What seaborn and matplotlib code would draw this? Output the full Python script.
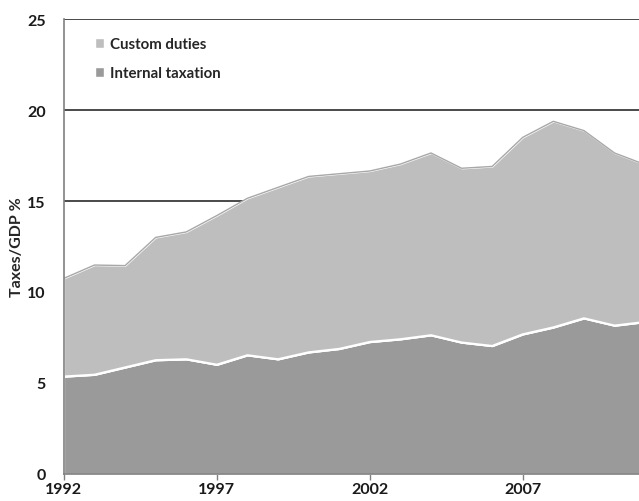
import matplotlib
matplotlib.use("Agg")
import matplotlib.pyplot as plt
from matplotlib.patches import Patch
import numpy as np
import pandas as pd
import seaborn as sns

years = list(range(1992, 2012))
internal_taxation = [5.35, 5.45, 5.85, 6.25, 6.3, 6.0, 6.52, 6.3, 6.68, 6.87, 7.25, 7.4, 7.62,
                     7.22, 7.03, 7.67, 8.05, 8.55, 8.15, 8.35]
total_taxes = [10.75, 11.48, 11.45, 13.0, 13.3, 14.2, 15.15, 15.75, 16.35, 16.5, 16.65, 17.03,
               17.64, 16.8, 16.9, 18.5, 19.38, 18.87, 17.64, 17.0]
custom_duties = [t - i for t, i in zip(total_taxes, internal_taxation)]

df = pd.DataFrame({"year": years, "internal": internal_taxation,
                   "custom": custom_duties, "total": total_taxes})

sns.set_style("white")
plt.rcParams["font.family"] = ["Lato", "DejaVu Sans"]
plt.rcParams["font.weight"] = "bold"

color_internal = "#9a9a9a"
color_custom = "#bebebe"

fig = plt.figure(figsize=(6.39, 5.02), dpi=100)
ax = fig.add_axes([0.100, 0.054, 0.900, 0.906])

# gridlines behind the areas
for y in [5, 10, 15, 20, 25]:
    ax.axhline(y, color="#4a4a4a", linewidth=1.4, zorder=0)

ax.stackplot(df["year"], df["internal"], df["custom"],
             colors=[color_internal, color_custom], zorder=2)
sns.lineplot(data=df, x="year", y="internal", color="white", linewidth=1.6, ax=ax, zorder=3)
sns.lineplot(data=df, x="year", y="total", color="#a8a8a8", linewidth=1.0, ax=ax, zorder=3)

ax.set_xlim(1992, 2010.8)
ax.set_ylim(0, 25)
ax.set_yticks([0, 5, 10, 15, 20, 25])
ax.set_xticks([1992, 1997, 2002, 2007])
ax.tick_params(axis="both", labelsize=11.5, colors="#1a1a1a")
ax.tick_params(axis="x", length=4, width=1, color="#808080", direction="out", bottom=True, pad=2)
ax.tick_params(axis="y", length=0, pad=13)
for lbl in ax.get_xticklabels() + ax.get_yticklabels():
    lbl.set_fontweight("bold")

ax.set_xlabel("")
ax.set_ylabel("Taxes/GDP %", fontsize=11.5, fontweight="bold", labelpad=2)

for s in ["top", "right"]:
    ax.spines[s].set_visible(False)
for s in ["left", "bottom"]:
    ax.spines[s].set_color("#808080")
    ax.spines[s].set_linewidth(1.2)
    ax.spines[s].set_zorder(4)

handles = [Patch(facecolor=color_custom, label="Custom duties"),
           Patch(facecolor=color_internal, label="Internal taxation")]
leg = ax.legend(handles=handles, loc="upper left", bbox_to_anchor=(0.03, 0.99), frameon=False,
                fontsize=10.8, handlelength=0.6, handleheight=0.6, handletextpad=0.4,
                labelspacing=1.0)
for t in leg.get_texts():
    t.set_fontweight("bold")

fig.savefig("out.png", dpi=100)
